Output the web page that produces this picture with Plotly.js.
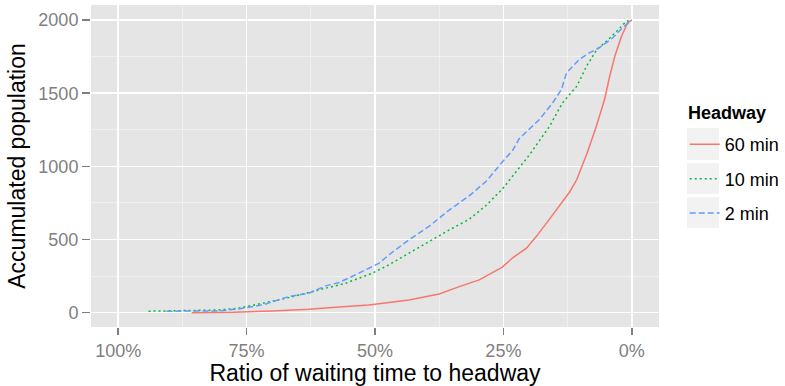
<!DOCTYPE html>
<html>
<head>
<meta charset="utf-8">
<script src="https://cdn.plot.ly/plotly-3.0.1.min.js"></script>
<style>html,body{margin:0;padding:0;background:#fff;}#chart{width:785px;height:386px;}</style>
</head>
<body>
<div id="chart"></div>
<script>
// Series names
const seriesNames = ["60 min", "10 min", "2 min"];
const legendTitle = "Headway";

// 60 min headway
const ratio60 = [0.857, 0.80, 0.775, 0.70, 0.629, 0.57, 0.512, 0.434, 0.375, 0.336, 0.297, 0.252, 0.232, 0.205, 0.186, 0.166, 0.141, 0.121, 0.107, 0.098, 0.086, 0.069, 0.053, 0.043, 0.033, 0.020, 0.008, 0];
const pop60   = [0, 2, 3, 12, 23, 38, 53, 87, 128, 178, 224, 311, 375, 441, 520, 612, 730, 825, 910, 990, 1100, 1274, 1457, 1616, 1753, 1890, 1982, 2000];

// 10 min headway
const ratio10 = [0.941, 0.863, 0.805, 0.766, 0.717, 0.674, 0.635, 0.596, 0.557, 0.531, 0.505, 0.473, 0.434, 0.395, 0.355, 0.316, 0.283, 0.252, 0.225, 0.199, 0.160, 0.135, 0.107, 0.088, 0.068, 0.049, 0.029, 0.010, 0];
const pop10   = [10, 12, 18, 30, 64, 98, 133, 167, 201, 236, 270, 327, 407, 486, 566, 640, 735, 845, 965, 1080, 1274, 1434, 1548, 1685, 1799, 1856, 1925, 1993, 2000];

// 2 min headway
const ratio2 = [0.906, 0.805, 0.766, 0.717, 0.668, 0.629, 0.596, 0.570, 0.545, 0.512, 0.492, 0.473, 0.434, 0.395, 0.355, 0.316, 0.283, 0.252, 0.232, 0.219, 0.180, 0.154, 0.137, 0.127, 0.102, 0.082, 0.063, 0.037, 0.018, 0];
const pop2   = [10, 12, 25, 55, 110, 133, 183, 206, 247, 304, 338, 395, 498, 589, 703, 800, 900, 1030, 1110, 1190, 1320, 1434, 1525, 1640, 1731, 1777, 1811, 1879, 1948, 2000];

// Tick labels
const xTickVals = [1, 0.75, 0.5, 0.25, 0];
const xTickText = ["100%", "75%", "50%", "25%", "0%"];
const yTickVals = [0, 500, 1000, 1500, 2000];

const FONT = "Liberation Sans, Arial, Helvetica, sans-serif";

const traces = [
  {x: ratio60, y: pop60, name: seriesNames[0], type: "scatter", mode: "lines", legendgroup: "a",
   line: {color: "#F8766D", width: 1.5, dash: "solid"}},
  {x: ratio10, y: pop10, name: seriesNames[1], type: "scatter", mode: "lines", legendgroup: "b",
   line: {color: "#00BA38", width: 1.5, dash: "2px,3px"}},
  {x: ratio2, y: pop2, name: seriesNames[2], type: "scatter", mode: "lines", legendgroup: "c",
   line: {color: "#619CFF", width: 1.5, dash: "6px,3px"}}
];

function box(y0, y1) {
  return {type: "rect", xref: "paper", yref: "paper", x0: 1.0493, x1: 1.1056, y0: y0, y1: y1,
          fillcolor: "#F2F2F2", line: {width: 0}, layer: "below"};
}

const layout = {
  width: 785, height: 386,
  margin: {l: 91, r: 126, t: 5, b: 59, pad: 0, autoexpand: false},
  paper_bgcolor: "#FFFFFF",
  plot_bgcolor: "#E5E5E5",
  font: {family: FONT, size: 18, color: "#000"},
  showlegend: true,
  legend: {
    x: 1.0453, y: 0.624, xanchor: "left", yanchor: "top",
    bgcolor: "rgba(0,0,0,0)", borderwidth: 0,
    font: {family: FONT, size: 18, color: "#000"},
    tracegroupgap: 8, itemwidth: 30, traceorder: "grouped"
  },
  annotations: [{
    text: "<b>" + legendTitle + "</b>", xref: "paper", yref: "paper",
    x: 1.0475, y: 0.664, xanchor: "left", yanchor: "middle", showarrow: false,
    font: {family: FONT, size: 18, color: "#000"}
  }],
  xaxis: {
    range: [1.053, -0.053],
    tickvals: xTickVals, ticktext: xTickText,
    ticks: "outside", ticklen: 7, tickwidth: 1.5, tickcolor: "#7F7F7F",
    tickfont: {family: FONT, size: 18, color: "#7F7F7F"},
    showgrid: true, gridcolor: "#FFFFFF", gridwidth: 1.6,
    minor: {tickvals: [0.875, 0.625, 0.375, 0.125], showgrid: true, gridcolor: "#F2F2F2", gridwidth: 0.8, ticks: ""},
    zeroline: false, showline: false,
    title: {text: "Ratio of waiting time to headway", font: {family: FONT, size: 23, color: "#000"}, standoff: 5}
  },
  yaxis: {
    range: [-98, 2103],
    tickvals: yTickVals,
    ticks: "outside", ticklen: 8, tickwidth: 1.5, tickcolor: "#7F7F7F",
    tickfont: {family: FONT, size: 18, color: "#7F7F7F"},
    showgrid: true, gridcolor: "#FFFFFF", gridwidth: 1.6,
    minor: {tickvals: [250, 750, 1250, 1750], showgrid: true, gridcolor: "#F2F2F2", gridwidth: 0.8, ticks: ""},
    zeroline: false, showline: false,
    title: {text: "Accumulated population", font: {family: FONT, size: 23, color: "#000"}, standoff: 6}
  },
  shapes: [box(0.5186, 0.618), box(0.413, 0.5093), box(0.3075, 0.4037)]
};

Plotly.newPlot("chart", traces, layout, {staticPlot: true, displayModeBar: false});
</script>
</body>
</html>
